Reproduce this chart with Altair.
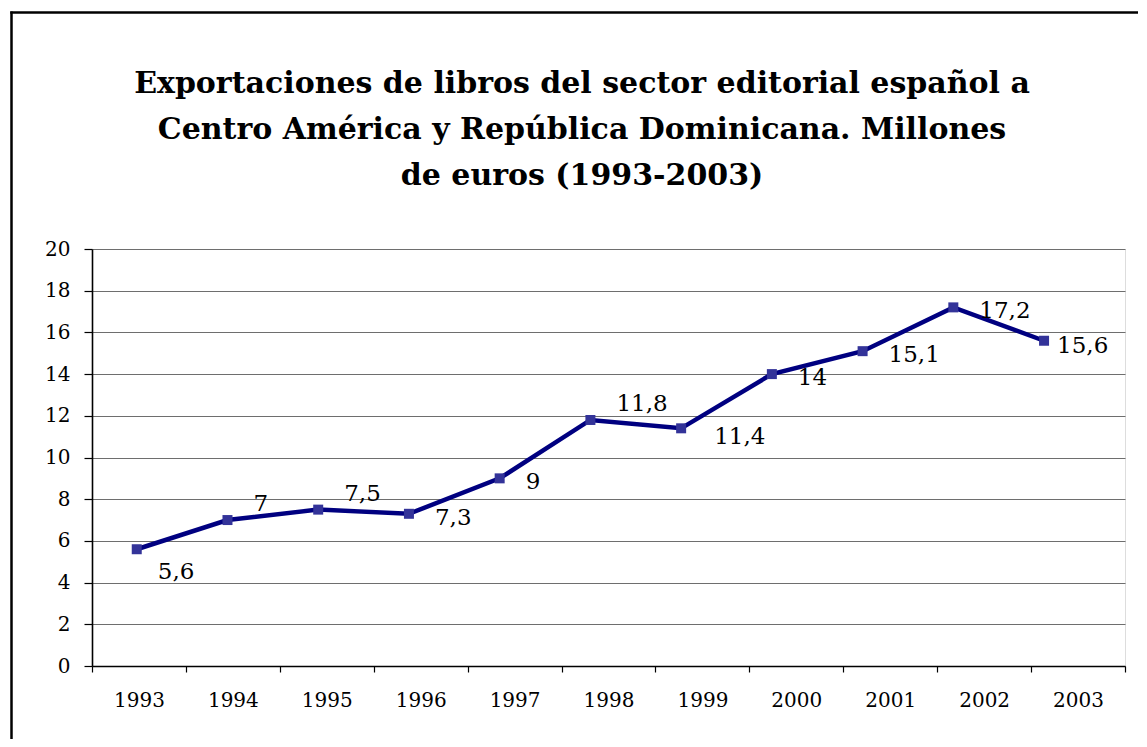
import altair as alt
import pandas as pd

years = ["1993", "1994", "1995", "1996", "1997", "1998", "1999", "2000", "2001", "2002", "2003"]
values = [5.6, 7.0, 7.5, 7.3, 9.0, 11.8, 11.4, 14.0, 15.1, 17.2, 15.6]
labels = ["5,6", "7", "7,5", "7,3", "9", "11,8", "11,4", "14", "15,1", "17,2", "15,6"]
y_ticks = [0, 2, 4, 6, 8, 10, 12, 14, 16, 18, 20]
title_lines = [
    "Exportaciones de libros del sector editorial español a",
    "Centro América y República Dominicana. Millones",
    "de euros (1993-2003)",
]

df = pd.DataFrame({"year": years, "value": values, "label": labels})

W, H = 1033, 417
PAD_R = 14
SERIF = "DejaVu Serif"

y_enc = alt.Y(
    "value:Q",
    scale=alt.Scale(domain=[0, 20], nice=False, zero=True),
    axis=alt.Axis(
        values=y_ticks, title=None, grid=True, gridColor="#6e6e6e", gridWidth=1.2,
        domain=True, domainColor="black", domainWidth=1.6,
        ticks=True, tickColor="black", tickSize=8, tickWidth=1.2,
        labelFont=SERIF, labelFontSize=20, labelColor="black", labelPadding=14,
    ),
)

# category axis (band ticks between years)
axis_layer = alt.Chart(df).mark_point(opacity=0).encode(
    x=alt.X(
        "year:N", sort=years,
        scale=alt.Scale(type="band", paddingInner=0, paddingOuter=0),
        axis=alt.Axis(
            title=None, labelAngle=0, tickBand="extent", grid=False,
            domain=True, domainColor="black", domainWidth=1.6,
            ticks=True, tickColor="black", tickSize=6, tickWidth=1.2,
            labelFont=SERIF, labelFontSize=20, labelColor="black", labelPadding=18,
        ),
    ),
    y=y_enc,
)

x_pt = alt.X("year:N", sort=years, scale=alt.Scale(type="point", padding=0.6926, align=0.356), axis=None)

line = alt.Chart(df).mark_line(color="#000080", strokeWidth=4.5).encode(x=x_pt, y=y_enc)
pts = alt.Chart(df).mark_square(size=100, color="#333399", opacity=1).encode(x=x_pt, y=y_enc)


def label_layer(sel, dx, dy):
    return alt.Chart(df).transform_filter(
        alt.FieldOneOfPredicate(field="year", oneOf=sel)
    ).mark_text(
        align="left", baseline="alphabetic", dx=dx, dy=dy,
        font=SERIF, fontSize=23, color="black",
    ).encode(x=x_pt, y=y_enc, text="label:N")


texts = [
    label_layer(["1993"], 21, 30),
    label_layer(["1994", "1995", "1998"], 26, -9),
    label_layer(["1996", "1997", "2000", "2001", "2002"], 26, 11),
    label_layer(["1999"], 33, 16),
    label_layer(["2003"], 13, 12),
]

one = alt.Data(values=[{"k": 1}])
frame_left = alt.Chart(one).mark_rule(color="black", strokeWidth=2.5).encode(
    x=alt.value(-80.5), y=alt.value(-237.5), y2=alt.value(H + 73)
)
frame_top = alt.Chart(one).mark_rule(color="black", strokeWidth=2.5).encode(
    x=alt.value(-81.75), x2=alt.value(W + PAD_R - 1), y=alt.value(-236.5)
)
title = alt.Chart(one).mark_text(
    font="DejaVu Serif", fontSize=30, fontWeight="bold", color="black",
    align="center", baseline="alphabetic", lineHeight=46,
).encode(x=alt.value(490), y=alt.value(-156), text=alt.value(title_lines))

series = alt.layer(line, pts, *texts)

chart = alt.layer(frame_left, frame_top, title, axis_layer, series).resolve_scale(x="independent").properties(
    width=W, height=H,
    autosize=alt.AutoSizeParams(type="none"),
    padding={"left": 84, "top": 241, "right": PAD_R, "bottom": 73},
).configure_view(stroke="#888888", strokeWidth=1.5).configure(background="white")

chart.save("out.html", embed_options={"renderer": "svg", "actions": False})
